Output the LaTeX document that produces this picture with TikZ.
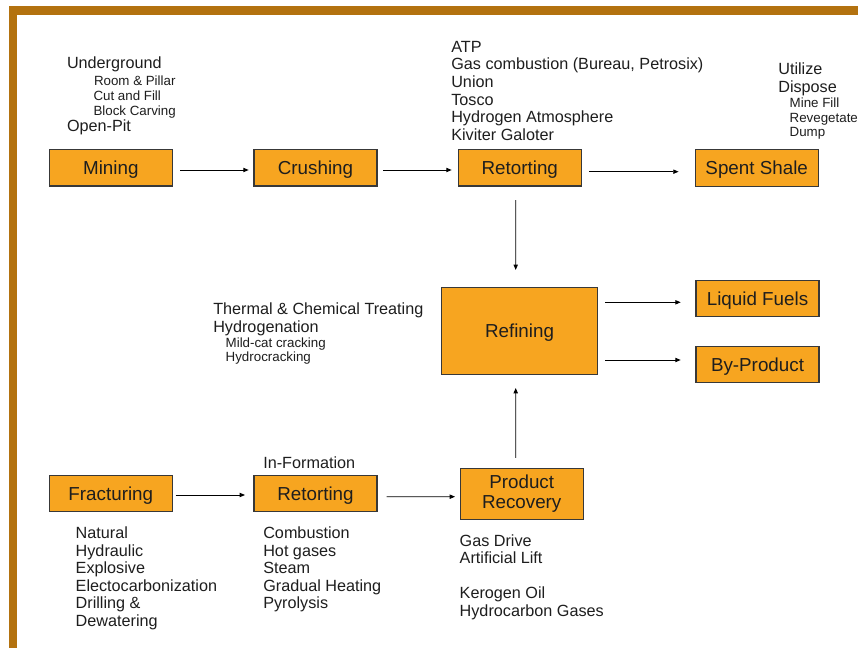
\documentclass[tikz,border=0pt]{standalone}
\usepackage{fontspec}
\setmainfont{Liberation Sans}
\usetikzlibrary{arrows.meta,calc}
\definecolor{boxorange}{HTML}{F7A520}
\definecolor{framebrown}{HTML}{B3720F}
\definecolor{txtcol}{HTML}{1E1E1E}
\newcommand\MyBoxFont{\fontsize{14.1}{15}\selectfont}
\newcommand\MyMainFont{\fontsize{12.15}{13}\selectfont}
\newcommand\MySubFont{\fontsize{10}{11}\selectfont}
\begin{document}
\begin{tikzpicture}[x=0.75pt,y=-0.75pt,
  procbase/.style={draw=black!78,line width=0.8pt,fill=boxorange,inner sep=0pt,outer sep=0pt,
    font=\MyBoxFont,text=txtcol,minimum width=92.25pt,minimum height=27.5pt,align=center},
  proc/.style={procbase,text height=10pt,text depth=0pt},
  lbl/.style={anchor=base west,inner sep=0pt,outer sep=0pt,font=\MyMainFont,text=txtcol,yshift=-1.1pt},
  sublbl/.style={lbl,font=\MySubFont},
  arr/.style={-{Triangle[length=4pt,width=3.2pt]},line width=0.65pt,draw=black}]
\useasboundingbox (0,0) rectangle (858,648);
\fill[white] (0,0) rectangle (858,648);
\fill[framebrown] (9,6) rectangle (858,15);
\fill[framebrown] (9,6) rectangle (17.3,648);

% boxes
\node[proc] (Mining) at (110.8,167.7) {Mining};
\node[proc] (Crushing) at (315.5,167.7) {Crushing};
\node[proc] (RetTop) at (519.8,167.7) {Retorting};
\node[proc] (Spent) at (756.7,168) {Spent Shale};
\node[proc,minimum width=116.7pt,minimum height=65.5pt] (Refining) at (519.5,331.3) {Refining};
\node[proc] (LF) at (757.5,298.5) {Liquid Fuels};
\node[proc] (BP) at (757.5,364.5) {By-Product};
\node[proc] (Fract) at (110.8,493.5) {Fracturing};
\node[proc] (RetBot) at (315.5,493.5) {Retorting};
\node[procbase,minimum height=38.25pt,minimum width=92.5pt] (PR) at (521.7,493.8) {Product\\Recovery};

% connectors
\draw[arr] ($(Mining.east)+(7.7,2.3)$) -- ($(Crushing.west)+(-5.3,2.3)$);
\draw[arr] ($(Crushing.east)+(6,2.3)$) -- ($(RetTop.west)+(-6.6,2.3)$);
\draw[arr] ($(RetTop.east)+(7.7,4)$) -- ($(Spent.west)+(-16.6,3.7)$);
\draw[arr] ($(RetTop.south)+(-4.1,14)$) -- ($(Refining.north)+(-3.8,-17.7)$);
\draw[arr] ($(Refining.east |- LF.west)+(7.7,3.8)$) -- ($(LF.west)+(-15.3,3.8)$);
\draw[arr] ($(Refining.east |- BP.west)+(7.7,-4.5)$) -- ($(BP.west)+(-15.3,-4.5)$);
\draw[arr] ($(Fract.east)+(3.4,1.5)$) -- ($(RetBot.west)+(-9,1.5)$);
\draw[arr] ($(RetBot.east)+(9.7,3.2)$) -- ($(PR.west)+(-5,2.9)$);
\draw[arr] ($(PR.north)+(-6,-10.3)$) -- ($(Refining.south)+(-3.8,13)$);

% mining methods
\node[lbl] (u1) at (67,67) {Underground};
\node[sublbl] (u2) at (94,84) {Room \& Pillar};
\node[sublbl] (u3) at (93.5,99) {Cut and Fill};
\node[sublbl] (u4) at (93.5,113.7) {Block Carving};
\node[lbl] (u5) at (67,130) {Open-Pit};

% retorting processes
\node[lbl] (a1) at (451.3,50.7) {ATP};
\node[lbl] (a2) at (451.3,68.4) {Gas combustion (Bureau, Petrosix)};
\node[lbl] (a3) at (451.3,86.1) {Union};
\node[lbl] (a4) at (451.3,103.8) {Tosco};
\node[lbl] (a5) at (451.3,121.5) {Hydrogen Atmosphere};
\node[lbl] (a6) at (451.3,139.2) {Kiviter Galoter};

% spent shale
\node[lbl] (s1) at (778.3,73.3) {Utilize};
\node[lbl] (s2) at (778.3,90.7) {Dispose};
\node[sublbl] (s3) at (789.7,105.7) {Mine Fill};
\node[sublbl] (s4) at (789.7,120.7) {Revegetate};
\node[sublbl] (s5) at (789.7,135) {Dump};

% refining
\node[lbl] (r1) at (213.3,313.5) {Thermal \& Chemical Treating};
\node[lbl] (r2) at (213.3,331) {Hydrogenation};
\node[sublbl] (r3) at (225.7,346) {Mild-cat cracking};
\node[sublbl] (r4) at (225.7,360) {Hydrocracking};

% in-formation
\node[lbl] (i0) at (263.3,467.3) {In-Formation};

% fracturing
\node[lbl] (f1) at (75.7,537.3) {Natural};
\node[lbl] (f2) at (75.7,554.8) {Hydraulic};
\node[lbl] (f3) at (75.7,572.3) {Explosive};
\node[lbl] (f4) at (75.7,589.8) {Electocarbonization};
\node[lbl] (f5) at (75.7,607.3) {Drilling \&};
\node[lbl] (f6) at (75.7,624.8) {Dewatering};

% in-situ retorting
\node[lbl] (b1) at (263.3,537.3) {Combustion};
\node[lbl] (b2) at (263.3,554.8) {Hot gases};
\node[lbl] (b3) at (263.3,572.3) {Steam};
\node[lbl] (b4) at (263.3,589.8) {Gradual Heating};
\node[lbl] (b5) at (263.3,607.3) {Pyrolysis};

% product recovery
\node[lbl] (p1) at (459.7,545) {Gas Drive};
\node[lbl] (p2) at (459.7,562.3) {Artificial Lift};
\node[lbl] (p3) at (459.7,597.3) {Kerogen Oil};
\node[lbl] (p4) at (459.7,614.7) {Hydrocarbon Gases};
\end{tikzpicture}
\end{document}
